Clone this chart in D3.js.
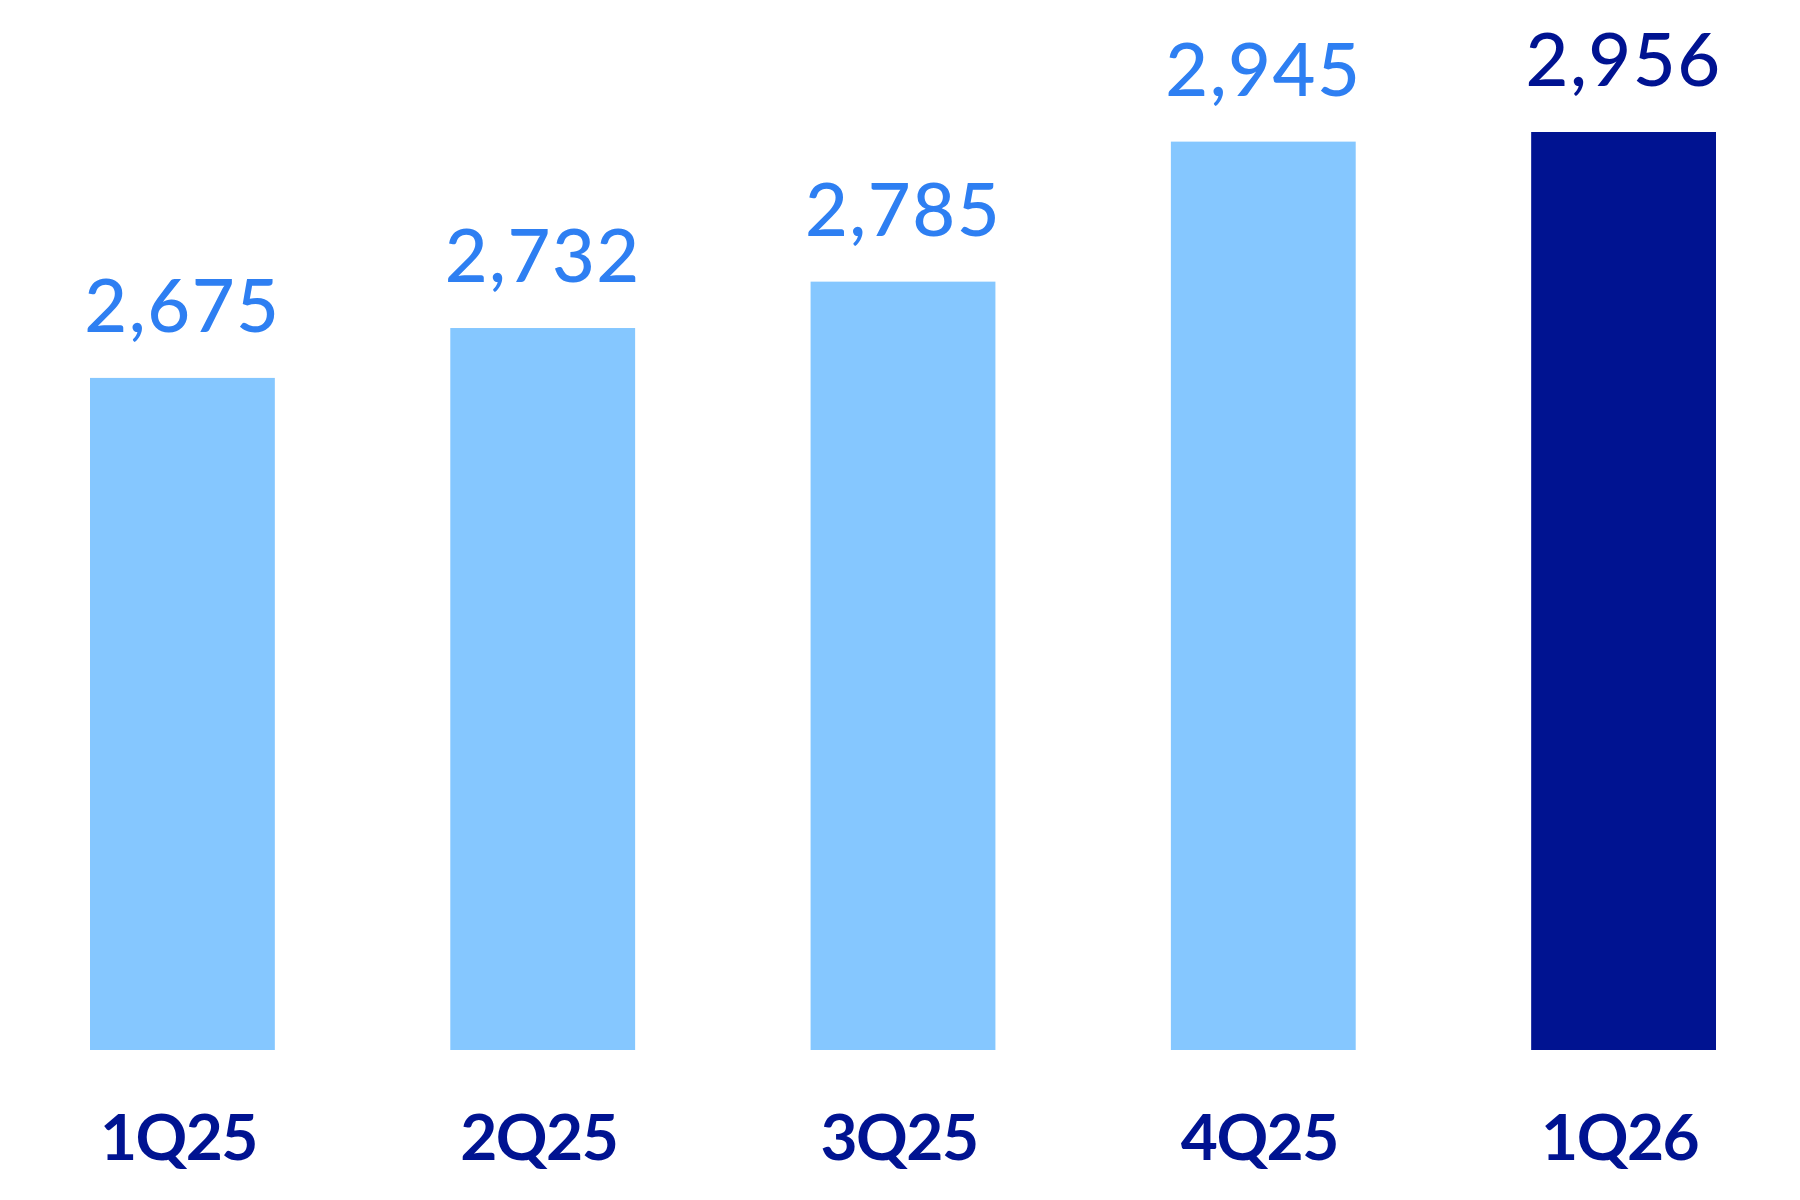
<!DOCTYPE html>
<html>
<head>
<meta charset="utf-8">
<script src="https://cdn.jsdelivr.net/npm/d3@7"></script>
<style>
  html, body { margin: 0; padding: 0; background: #fff; }
  svg { display: block; }
</style>
</head>
<body>
<div id="chart"></div>
<script>
// quarters and values
const quarters = ["1Q25", "2Q25", "3Q25", "4Q25", "1Q26"];
const values = [2675, 2732, 2785, 2945, 2956];
const labels = ["2,675", "2,732", "2,785", "2,945", "2,956"];

const width = 1800;
const height = 1200;
const baseY = 1050;     // bottom of the bars
const topY = 132;       // top of the highest bar

const lightBar = "#85c7ff";
const darkBar = "#001391";
const labelBlue = "#2e7ff2";

const svg = d3.select("#chart")
  .append("svg")
  .attr("width", width)
  .attr("height", height);

const x = d3.scaleBand()
  .domain(quarters)
  .range([90, 1716])
  .paddingInner(0.487)
  .paddingOuter(0);

// the bars in the source do not start from zero
const y = d3.scaleLinear()
  .domain([1907, d3.max(values)])
  .range([baseY, topY]);

const data = quarters.map((q, i) => ({ q, v: values[i], label: labels[i], last: i === quarters.length - 1 }));

svg.append("g")
  .selectAll("rect")
  .data(data)
  .join("rect")
  .attr("x", d => x(d.q))
  .attr("y", d => y(d.v))
  .attr("width", x.bandwidth())
  .attr("height", d => baseY - y(d.v))
  .attr("fill", d => d.last ? darkBar : lightBar);

// value labels above bars
svg.append("g")
  .selectAll("text")
  .data(data)
  .join("text")
  .attr("x", d => x(d.q) + x.bandwidth() / 2)
  .attr("y", d => y(d.v) - 46)
  .attr("text-anchor", "middle")
  .style("font-family", "Lato, 'Open Sans', sans-serif")
  .style("font-size", "74px")
  .style("font-weight", 500)
  .style("letter-spacing", "1.5px")
  .style("fill", d => d.last ? darkBar : labelBlue)
  .text(d => d.label);

// category axis, no line or ticks
const xAxis = svg.append("g")
  .attr("transform", `translate(0, ${baseY})`)
  .call(d3.axisBottom(x).tickSize(0).tickPadding(110));

xAxis.select(".domain").remove();
xAxis.selectAll("text")
  .attr("dy", 0)
  .attr("dx", -4)
  .style("font-family", "Lato, 'Open Sans', sans-serif")
  .style("font-size", "64px")
  .style("font-weight", 700)
  .style("letter-spacing", "-1.5px")
  .style("fill", darkBar);
</script>
</body>
</html>
